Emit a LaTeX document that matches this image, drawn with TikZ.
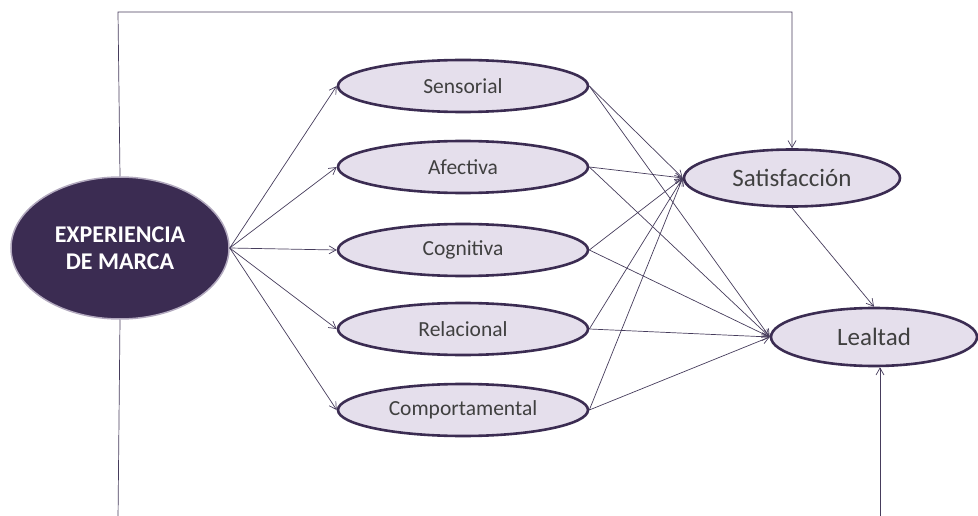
\documentclass[tikz,border=0pt]{standalone}
\usepackage{fontspec}
\setmainfont{Carlito}
\usetikzlibrary{arrows.meta,shapes.geometric}
\definecolor{dk}{HTML}{3B2C52}
\definecolor{lav}{HTML}{E5DFEC}
\definecolor{txt}{HTML}{404040}
\definecolor{ln}{HTML}{463C5C}
\tikzset{
  ell/.style={draw=dk,line width=2.6pt,fill=lav,ellipse,inner sep=0pt,text=txt},
  mid/.style={ell,minimum width=250pt,minimum height=52pt,font=\fontsize{21.5}{24}\selectfont},
  big/.style={ell,font=\fontsize{25}{28}\selectfont},
  con/.style={draw=ln,line width=0.7pt,-{Straight Barb[length=7pt,width=8pt,line width=0.7pt]}},
}
\begin{document}
\begin{tikzpicture}[x=1pt,y=-1pt]
\useasboundingbox (0,0) rectangle (978,516);
\node[ellipse,fill=dk,draw=lav!70!dk,line width=1.5pt,minimum width=218pt,minimum height=142pt,inner sep=0pt,text=white,font=\bfseries\fontsize{24}{27}\selectfont,align=center] (exp) at (120,248) {EXPERIENCIA\\DE MARCA};
\node[mid] (sen) at (463,86) {Sensorial};
\node[mid] (afe) at (463,167) {Afectiva};
\node[mid] (cog) at (463,250) {Cognitiva};
\node[mid] (rel) at (463,329) {Relacional};
\node[mid] (com) at (463,410) {Comportamental};
\node[big,minimum width=216pt,minimum height=57pt] (sat) at (792,178) {Satisfacción};
\node[big,minimum width=206pt,minimum height=58pt] (lea) at (874,337) {Lealtad};
\coordinate (t1) at (118,12);
\coordinate (t2) at (792,12);
\coordinate (b1) at (118,520);
\coordinate (b2) at (880,520);
\foreach \m in {sen,afe,cog,rel,com}{
  \draw[con] (exp.east) -- (\m.west);
  \draw[con] (\m.east) -- (sat.west);
  \draw[con] (\m.east) -- (lea.west);
}
\draw[con] (sat.south) -- (lea.north);
\draw[con] (exp.north) -- (t1) -- (t2) -- (sat.north);
\draw[draw=ln,line width=0.7pt] (exp.south) -- (b1);
\draw[con] (b2) -- (lea.south -| b2);
\end{tikzpicture}
\end{document}
